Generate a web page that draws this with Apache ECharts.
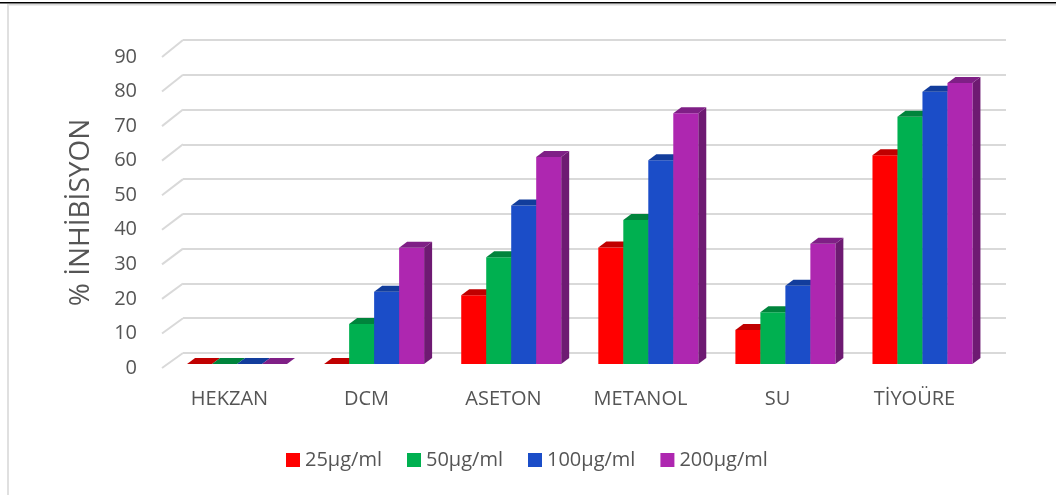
<!DOCTYPE html>
<html>
<head>
<meta charset="utf-8">
<script src="https://cdn.jsdelivr.net/npm/echarts@6/dist/echarts.min.js"></script>
<style>
  html, body { margin: 0; padding: 0; background: #fff; }
  #chart { width: 1056px; height: 495px; }
</style>
</head>
<body>
<div id="chart"></div>
<script>
// Solvent extracts and the inhibition (%) measured at each concentration
const categories = ['HEKZAN', 'DCM', 'ASETON', 'METANOL', 'SU', 'TİYOÜRE'];
const seriesNames = ['25µg/ml', '50µg/ml', '100µg/ml', '200µg/ml'];
const conc25 = [0, 0, 19.8, 33.5, 9.8, 60.0];
const conc50 = [0, 11.5, 30.7, 41.4, 14.9, 71.1];
const conc100 = [0, 20.8, 45.6, 58.6, 22.5, 78.3];
const conc200 = [0, 33.4, 59.5, 72.1, 34.6, 80.8];
const yTicks = [0, 10, 20, 30, 40, 50, 60, 70, 80, 90];

const seriesValues = [conc25, conc50, conc100, conc200];

// front, top and side shades for each column colour
const palettes = [
  { front: '#FF0000', top: '#C00000', side: '#A00000' },
  { front: '#00B050', top: '#00843C', side: '#006E32' },
  { front: '#1B4DC8', top: '#123D9C', side: '#0F3282' },
  { front: '#AE27B0', top: '#7F1F86', side: '#6E1A72' }
];

const TEXT = '#555555';
const FONT = 'Open Sans';
const DEPTH_X = 8, DEPTH_Y = -6;   // column depth
const BAR_RATIO = 0.1823;          // column width relative to category band

function columnRenderer(idx) {
  const pal = palettes[idx];
  return function (params, api) {
    const cat = api.value(0);
    const val = api.value(1);
    const base = api.coord([cat, 0]);
    const top = api.coord([cat, val]);
    const band = api.size([1, 0])[0];
    const w = band * BAR_RATIO;
    const x = base[0] - 2 * w + idx * w;
    const yb = base[1], yt = top[1];
    const children = [];
    if (yb - yt > 0.01) {
      children.push({
        type: 'polygon',
        shape: { points: [[x + w, yt], [x + w + DEPTH_X, yt + DEPTH_Y], [x + w + DEPTH_X, yb + DEPTH_Y], [x + w, yb]] },
        style: { fill: pal.side }
      });
      children.push({
        type: 'rect',
        shape: { x: x, y: yt, width: w, height: yb - yt },
        style: { fill: pal.front }
      });
    }
    children.push({
      type: 'polygon',
      shape: { points: [[x, yt], [x + DEPTH_X, yt + DEPTH_Y], [x + w + DEPTH_X, yt + DEPTH_Y], [x + w, yt]] },
      style: { fill: pal.top }
    });
    return { type: 'group', children: children };
  };
}

// slanted floor/side-wall strokes joining the front scale to the back wall
function wallEdgeRenderer(params, api) {
  const v = api.value(1);
  const back = api.coord([0, v]);
  const x0 = params.coordSys.x;
  const y0 = back[1];
  return {
    type: 'line',
    shape: { x1: x0, y1: y0, x2: x0 - 21, y2: y0 + 15 + v * 0.022 },
    style: { stroke: '#D9D9D9', lineWidth: 2 }
  };
}

const chart = echarts.init(document.getElementById('chart'));

const series = seriesValues.map((vals, i) => ({
  name: seriesNames[i],
  type: 'custom',
  xAxisIndex: 2,
  yAxisIndex: 2,
  itemStyle: { color: palettes[i].front },
  renderItem: columnRenderer(i),
  data: categories.map((c, j) => [j, vals[j]]),
  z: 3
}));

series.unshift({
  type: 'custom',
  xAxisIndex: 0,
  yAxisIndex: 0,
  renderItem: wallEdgeRenderer,
  data: yTicks.map(v => [0, v]),
  silent: true,
  z: 1
});

chart.setOption({
  animation: false,
  backgroundColor: '#fff',
  textStyle: { fontFamily: FONT },
  graphic: [
    { type: 'rect', shape: { x: 0, y: 2, width: 1056, height: 1.5 }, style: { fill: '#000' } },
    { type: 'rect', shape: { x: 7, y: 4, width: 1049, height: 1.5 }, style: { fill: '#D9D9D9' } },
    { type: 'rect', shape: { x: 7, y: 4, width: 2, height: 491 }, style: { fill: '#E0E0E0' } }
  ],
  grid: [
    // back wall
    { left: 183, right: 50, top: 40, bottom: 142 },
    // front scale and category labels
    { left: 161, right: 73, top: 57, bottom: 127 },
    // column plane
    { left: 168.5, right: 65, top: 51, bottom: 131 }
  ],
  xAxis: [
    { gridIndex: 0, type: 'category', data: categories, show: false },
    {
      gridIndex: 1, type: 'category', data: categories,
      axisLine: { show: false }, axisTick: { show: false },
      axisLabel: { color: TEXT, fontSize: 20, fontFamily: FONT, margin: 21 }
    },
    { gridIndex: 2, type: 'category', data: categories, show: false }
  ],
  yAxis: [
    {
      gridIndex: 0, type: 'value', min: 0, max: 90, interval: 10,
      axisLine: { show: false }, axisTick: { show: false }, axisLabel: { show: false },
      splitLine: { show: true, lineStyle: { color: '#D9D9D9', width: 2 } }
    },
    {
      gridIndex: 1, type: 'value', min: 0, max: 90, interval: 10,
      axisLine: { show: false }, axisTick: { show: false },
      splitLine: { show: false },
      axisLabel: { color: TEXT, fontSize: 20, fontFamily: FONT, margin: 24 },
      name: '% İNHİBİSYON',
      nameLocation: 'middle',
      nameGap: 66,
      nameTextStyle: { color: TEXT, fontSize: 28, fontFamily: FONT }
    },
    { gridIndex: 2, type: 'value', min: 0, max: 90, interval: 10, show: false, splitLine: { show: false } }
  ],
  legend: {
    left: 286,
    top: 450,
    padding: 0,
    icon: 'rect',
    itemWidth: 14,
    itemHeight: 14,
    itemGap: 25,
    data: seriesNames,
    textStyle: { color: TEXT, fontSize: 20, fontFamily: FONT }
  },
  series: series
});
</script>
</body>
</html>
